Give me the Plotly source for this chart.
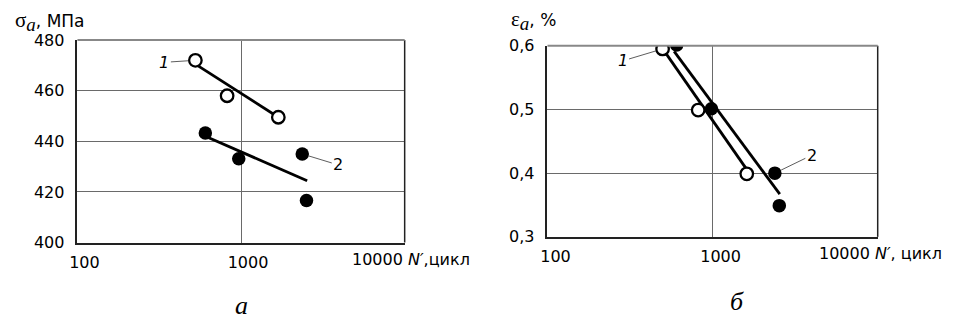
import numpy as np
import plotly.graph_objects as go

# ---- data -------------------------------------------------------------
# panel a: stress amplitude vs. cycles to crack initiation
a_n1 = [526, 822, 1690]
a_s1 = [472, 458, 449.5]
a_n2 = [605, 968, 2366, 2512]
a_s2 = [443.3, 433.1, 435, 416.6]
a_fit1_n = [526, 1690]
a_fit1_s = [470.5, 449.5]
a_fit2_n = [605, 2535]
a_fit2_s = [442, 424.4]
a_yticks = [400, 420, 440, 460, 480]

# panel б: strain amplitude vs. cycles to crack initiation
b_n1 = [498, 818, 1611]
b_e1 = [0.595, 0.499, 0.399]
b_n2 = [606, 984, 2383, 2535]
b_e2 = [0.601, 0.501, 0.40, 0.349]
b_fit1_n = [498, 1633]
b_fit1_e = [0.5955, 0.4035]
b_fit2_n = [585, 2553]
b_fit2_e = [0.591, 0.367]
b_yticks = [0.3, 0.4, 0.5, 0.6]
b_yticktext = ["0,3", "0,4", "0,5", "0,6"]

x_ticks = [100, 1000, 10000]

W, H = 961, 325
SANS = "DejaVu Sans, Verdana, sans-serif"
SERIF = "Liberation Serif, Times New Roman, serif"
FS = 16

fig = go.Figure()


def add_panel(xa, ya, fit1x, fit1y, fit2x, fit2y, x1, y1, x2, y2):
    for fx, fy in ((fit1x, fit1y), (fit2x, fit2y)):
        fig.add_trace(go.Scatter(x=fx, y=fy, mode="lines", xaxis=xa, yaxis=ya,
                                 line=dict(color="black", width=2.8),
                                 showlegend=False, hoverinfo="skip"))
    fig.add_trace(go.Scatter(x=x2, y=y2, mode="markers", xaxis=xa, yaxis=ya,
                             marker=dict(size=13.5, color="black",
                                         line=dict(width=0)),
                             showlegend=False))
    fig.add_trace(go.Scatter(x=x1, y=y1, mode="markers", xaxis=xa, yaxis=ya,
                             marker=dict(size=12.5, color="white",
                                         line=dict(width=2.3, color="black")),
                             showlegend=False))


add_panel("x", "y", a_fit1_n, a_fit1_s, a_fit2_n, a_fit2_s,
          a_n1, a_s1, a_n2, a_s2)
add_panel("x2", "y2", b_fit1_n, b_fit1_e, b_fit2_n, b_fit2_e,
          b_n1, b_e1, b_n2, b_e2)

grid = "#6a6a6a"
xcommon = dict(type="log", range=[2, 4], tickvals=x_ticks,
               ticktext=["100", "1000", ""], showgrid=True, gridcolor=grid,
               gridwidth=1, showline=True, linecolor="#222", linewidth=2,
               mirror=False, ticks="", zeroline=False, ticklabelstandoff=4,
               tickfont=dict(family=SANS, size=FS, color="black"))
ycommon = dict(showgrid=True, gridcolor=grid, gridwidth=1, showline=True,
               linecolor="#222", linewidth=1.5, mirror=False, ticks="",
               zeroline=False, ticklabelstandoff=8,
               tickfont=dict(family=SANS, size=FS, color="black"))

fig.update_layout(
    width=W, height=H, margin=dict(l=0, r=0, t=0, b=0),
    paper_bgcolor="white", plot_bgcolor="white",
    xaxis=dict(domain=[70 / W, 400 / W], anchor="y", ticklabelshift=7,
               **xcommon),
    yaxis=dict(domain=[1 - 248 / H, 1 - 33 / H], anchor="x",
               range=[400, 480], tickvals=a_yticks, **ycommon),
    xaxis2=dict(domain=[544 / W, 877 / W], anchor="y2", ticklabelshift=8,
                **xcommon),
    yaxis2=dict(domain=[1 - 242 / H, 1 - 39 / H], anchor="x2",
                range=[0.3, 0.6], tickvals=b_yticks, ticktext=b_yticktext,
                **ycommon),
)

# right-hand and top frame edges of each panel
for xd, yd in (("x domain", "y domain"), ("x2 domain", "y2 domain")):
    fig.add_shape(type="line", xref=xd, yref=yd, x0=1, x1=1, y0=0, y1=1,
                  line=dict(color="#222", width=1.5))
    fig.add_shape(type="line", xref=xd, yref=yd, x0=0, x1=1, y0=1, y1=1,
                  line=dict(color="#888", width=2))

ann = []
# y-axis titles
sym = ("<span style='font-family:{f};font-size:21px'>{s}</span>"
       "<sub><span style='font-family:{f};font-style:italic;font-size:19px'>a</span></sub>")
ann.append(dict(xref="paper", yref="paper", x=5 / W, y=1 - 13 / H,
                xanchor="left", yanchor="middle", showarrow=False,
                text=sym.format(f=SERIF, s="σ") + ", МПа",
                font=dict(family=SANS, size=17, color="black")))
ann.append(dict(xref="paper", yref="paper", x=505 / W, y=1 - 12 / H,
                xanchor="left", yanchor="middle", showarrow=False,
                text=sym.format(f=SERIF, s="ε") + ", %",
                font=dict(family=SANS, size=17, color="black")))
# last x tick label and x-axis titles
for xr, yr, gap, title in (("x", "y domain", 0, "<i>N′</i>,цикл"),
                           ("x2", "y2 domain", -6, "<i>N′</i>, цикл")):
    ann.append(dict(xref=xr, yref=yr, x=np.log10(x_ticks[-1]), y=0,
                    xanchor="right", yanchor="middle", yshift=-17,
                    xshift=gap, showarrow=False, text=f"{x_ticks[-1]}",
                    font=dict(family=SANS, size=FS, color="black")))
    ann.append(dict(xref=xr, yref=yr, x=np.log10(x_ticks[-1]), y=0,
                    xanchor="left", yanchor="middle", yshift=-17,
                    xshift=gap + 1, showarrow=False, text=title,
                    font=dict(family=SANS, size=FS, color="black")))

# series labels with leader lines
labels = [
    ("x", "y", a_n1[0], a_s1[0], "<i>1</i>", -31, 2),
    ("x", "y", a_n2[2], a_s2[2], "2", 36, 11),
    ("x2", "y2", b_n1[0], b_e1[0], "<i>1</i>", -40, 12),
    ("x2", "y2", b_n2[2], b_e2[2], "2", 37, -18),
]
for xr, yr, xv, yv, txt, dx, dy in labels:
    ann.append(dict(xref=xr, yref=yr, x=np.log10(xv), y=yv, text=txt,
                    showarrow=True, arrowhead=0, arrowwidth=0.8,
                    arrowcolor="#333", ax=dx, ay=dy, standoff=7,
                    font=dict(family=SANS, size=FS, color="black")))

# panel captions
ann.append(dict(xref="x", yref="paper", x=3, y=1 - 315 / H, xshift=0,
                xanchor="center", yanchor="middle", showarrow=False,
                text="<i>а</i>", font=dict(family=SERIF, size=26, color="black")))
ann.append(dict(xref="x2", yref="paper", x=3, y=1 - 311 / H, xshift=24,
                xanchor="center", yanchor="middle", showarrow=False,
                text="<i>б</i>", font=dict(family=SERIF, size=26, color="black")))

fig.update_layout(annotations=ann)
fig.write_html("out.html")
